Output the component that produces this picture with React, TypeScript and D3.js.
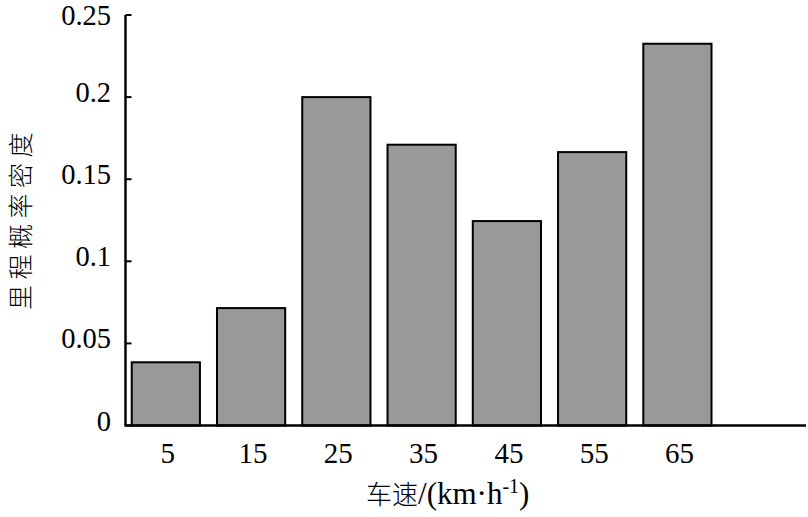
import React from "react";
import * as d3 from "d3";

const categories = ["5", "15", "25", "35", "45", "55", "65", "75"];
const values = [0.0385, 0.0715, 0.2, 0.171, 0.1245, 0.1665, 0.2325];
const yTicks = [0, 0.05, 0.1, 0.15, 0.2, 0.25];
const yTickLabels = ["0", "0.05", "0.1", "0.15", "0.2", "0.25"];
const xShownLabels = ["5", "15", "25", "35", "45", "55", "65"];

export default function App() {
  const W = 808, H = 517;
  const left = 125.5, right = 806, top = 15, bottom = 425.5;
  const x = d3.scaleBand<string>().domain(categories).range([left, 803]).paddingInner(0.2).paddingOuter(0.073);
  const y = d3.scaleLinear().domain([0, 0.25]).range([bottom, top]);
  const font = "Liberation Serif, DejaVu Serif, serif";
  const cjk = "Noto Sans CJK SC, sans-serif";
  return (
    <svg width={W} height={H} style={{ position: "absolute", left: 0, top: 0, background: "#fff" }}>
      {values.map((v, i) => (
        <rect key={i} x={x(categories[i])!} y={y(v)} width={x.bandwidth()} height={bottom - y(v)}
          fill="#999999" stroke="#000" strokeWidth={2} />
      ))}
      <line x1={left} x2={left} y1={top} y2={bottom} stroke="#000" strokeWidth={2.5} />
      <line x1={left - 1} x2={right} y1={bottom} y2={bottom} stroke="#000" strokeWidth={2.5} />
      {yTicks.map((t, i) => (
        <g key={i}>
          <line x1={left} x2={left + 6} y1={y(t)} y2={y(t)} stroke="#000" strokeWidth={2} />
          <text x={111} y={Math.max(y(t) + 5, 25)} textAnchor="end" style={{ fontFamily: font, fontSize: 28.5 }}>{yTickLabels[i]}</text>
        </g>
      ))}
      {xShownLabels.map((c) => (
        <text key={c} x={x(c)! + x.bandwidth() / 2 + 2} y={463} textAnchor="middle" style={{ fontFamily: font, fontSize: 29 }}>{c}</text>
      ))}
      <text transform={`translate(19, 218.5) rotate(-90)`} textAnchor="middle" dominantBaseline="central"
        style={{ fontFamily: cjk, fontSize: 25, letterSpacing: 5.5, fontWeight: 300 }}>里程概率密度</text>
      <text x={366} y={504} textAnchor="start" style={{ fontFamily: font, fontSize: 31 }}>
        <tspan style={{ fontFamily: cjk, fontSize: 26, fontWeight: 300 }}>车速</tspan>/(km·h<tspan dy={-11} style={{ fontSize: 20 }}>-1</tspan><tspan dy={11}>)</tspan>
      </text>
    </svg>
  );
}
